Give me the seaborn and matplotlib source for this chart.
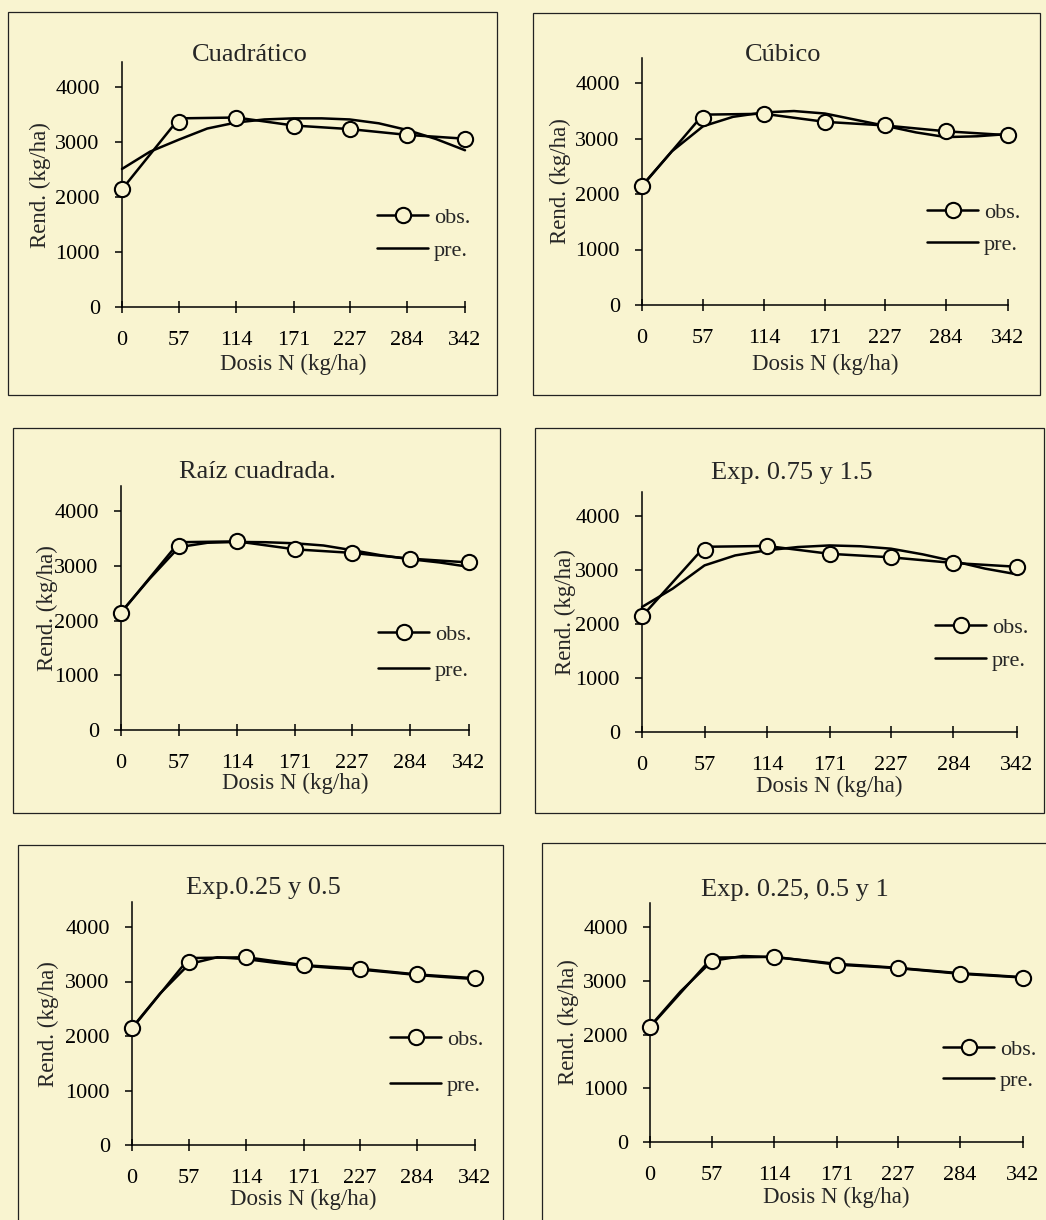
import numpy as np
import pandas as pd
import seaborn as sns
import matplotlib.pyplot as plt
from matplotlib.patches import Rectangle
from matplotlib.lines import Line2D

sns.set_theme(style="ticks")
plt.rcParams['font.family'] = ['Liberation Serif', 'DejaVu Serif']

# --- data ---
doses = [0, 57, 114, 171, 227, 284, 342]
dose_labels = ["0", "57", "114", "171", "227", "284", "342"]
obs = [2140, 3365, 3445, 3300, 3235, 3130, 3060]
# the printed obs line runs a bit above the 57 marker
obs_line = [2140, 3430, 3445, 3300, 3235, 3130, 3060]

curve_doses = [0, 28, 57, 85, 114, 142, 171, 199, 227, 256, 284, 313, 342]
pre_cuadratico = [2510, 2825, 3045, 3245, 3355, 3410, 3430, 3430, 3410, 3340, 3220, 3055, 2850]
pre_cubico = [2150, 2770, 3220, 3390, 3470, 3495, 3450, 3340, 3230, 3110, 3025, 3040, 3080]
pre_raiz = [2150, 2760, 3340, 3420, 3435, 3430, 3410, 3370, 3285, 3190, 3120, 3060, 2980]
pre_exp_075 = [2315, 2655, 3085, 3270, 3365, 3425, 3455, 3440, 3395, 3290, 3165, 3025, 2920]
pre_exp_025 = [2150, 2780, 3320, 3445, 3410, 3345, 3290, 3250, 3220, 3170, 3120, 3080, 3045]
pre_exp_025_1 = [2150, 2800, 3370, 3460, 3440, 3380, 3315, 3280, 3240, 3190, 3140, 3105, 3065]

titles = ["Cuadrático", "Cúbico", "Raíz cuadrada.", "Exp. 0.75 y 1.5",
          "Exp.0.25 y 0.5", "Exp. 0.25, 0.5 y 1"]
pre_curves = [pre_cuadratico, pre_cubico, pre_raiz, pre_exp_075, pre_exp_025, pre_exp_025_1]
y_ticks = [0, 1000, 2000, 3000, 4000]

# --- layout in pixels of the 1046x1220 page ---
W, H = 1046, 1220
BG = '#f9f4d0'
# frame (x0, y0, x1, y1), axes (x at 0, x at 342, y at 0, y at 4000),
# title (x, y), ylabel x, xlabel y, legend (x, obs y, pre y)
layout = [
    dict(frame=(8, 12, 497, 395), ax=(122, 465, 307, 87), title=(250, 55), ylab=40, xlab=364, leg=(377, 215, 253)),
    dict(frame=(533, 13, 1040, 395), ax=(642, 1008, 305, 83), title=(783, 55), ylab=560, xlab=364, leg=(927, 210, 247)),
    dict(frame=(13, 428, 500, 813), ax=(121, 469, 730, 511), title=(257, 472), ylab=47, xlab=783, leg=(378, 632, 673)),
    dict(frame=(535, 428, 1044, 813), ax=(642, 1017, 732, 516), title=(792, 473), ylab=565, xlab=786, leg=(935, 625, 663)),
    dict(frame=(18, 845, 503, 1232), ax=(132, 475, 1145, 927), title=(263, 888), ylab=48, xlab=1199, leg=(390, 1037, 1088)),
    dict(frame=(542, 843, 1052, 1232), ax=(650, 1023, 1142, 927), title=(795, 890), ylab=568, xlab=1197, leg=(943, 1047, 1083)),
]
YTOP = 4450


def fx(px):
    return px / W


def fy(py):
    return 1 - py / H


fig = plt.figure(figsize=(W / 100, H / 100), dpi=100, facecolor=BG)

LW = 1.8
for i, lay in enumerate(layout):
    x0, y0, x1, y1 = lay['frame']
    fig.patches.append(Rectangle((fx(x0), fy(y1)), fx(x1 - x0), (y1 - y0) / H,
                                 transform=fig.transFigure, fill=False,
                                 edgecolor='#222222', lw=0.9))

    ax_l, ax_r, ax_b, ax_4k = lay['ax']
    ax_h = (ax_b - ax_4k) * YTOP / 4000
    ax = fig.add_axes([fx(ax_l), fy(ax_b), fx(ax_r - ax_l), ax_h / H])
    ax.set_facecolor('none')

    df_obs = pd.DataFrame({'dosis': doses, 'rend': obs, 'linea': obs_line})
    df_pre = pd.DataFrame({'dosis': curve_doses, 'rend': pre_curves[i]})

    sns.lineplot(data=df_pre, x='dosis', y='rend', color='black', lw=LW,
                 ax=ax, clip_on=False, zorder=3)
    sns.lineplot(data=df_obs, x='dosis', y='linea', color='black', lw=LW,
                 ax=ax, clip_on=False, zorder=3)
    sns.scatterplot(data=df_obs, x='dosis', y='rend', marker='o', s=120,
                    facecolor=BG, edgecolor='black', linewidth=1.5,
                    ax=ax, clip_on=False, zorder=4)

    ax.set_xlim(0, 342)
    ax.set_ylim(0, YTOP)
    ax.set_xticks(doses)
    ax.set_xticklabels(dose_labels)
    ax.set_yticks(y_ticks)
    ax.set_yticklabels([str(v) for v in y_ticks])
    ax.set_xlabel('')
    ax.set_ylabel('')
    for side in ['top', 'right']:
        ax.spines[side].set_visible(False)
    for side in ['left', 'bottom']:
        ax.spines[side].set_linewidth(1.1)
        ax.spines[side].set_color('black')
    ax.tick_params(axis='x', direction='inout', length=8, width=1.1, pad=13,
                   labelsize=16, colors='black')
    ax.tick_params(axis='y', direction='out', length=5, width=1.1, pad=11,
                   labelsize=16, colors='black')

    fig.text(fx(lay['title'][0]), fy(lay['title'][1]), titles[i],
             ha='center', va='center', fontsize=19)
    fig.text(fx(lay['ylab']), fy((ax_b + ax_b - ax_h) / 2), 'Rend. (kg/ha)',
             ha='center', va='center', rotation=90, fontsize=16.5)
    fig.text(fx((ax_l + ax_r) / 2), fy(lay['xlab']), 'Dosis N (kg/ha)',
             ha='center', va='center', fontsize=16.5)

    lx, ly_obs, ly_pre = lay['leg']
    handles = [
        Line2D([], [], color='black', lw=LW, marker='o', markersize=11,
               markerfacecolor=BG, markeredgecolor='black', markeredgewidth=1.5),
        Line2D([], [], color='black', lw=LW),
    ]
    spacing = ((ly_pre - ly_obs) * 0.72 - 16 * 1.15) / 16
    ax.legend(handles, ['obs.', 'pre.'], loc='center left',
              bbox_to_anchor=(fx(lx), fy((ly_obs + ly_pre) / 2)),
              bbox_transform=fig.transFigure, frameon=False, fontsize=16,
              borderpad=0, borderaxespad=0, handlelength=2.3,
              handletextpad=0.25, labelspacing=spacing)

fig.savefig('out.png', dpi=100, facecolor=BG)
